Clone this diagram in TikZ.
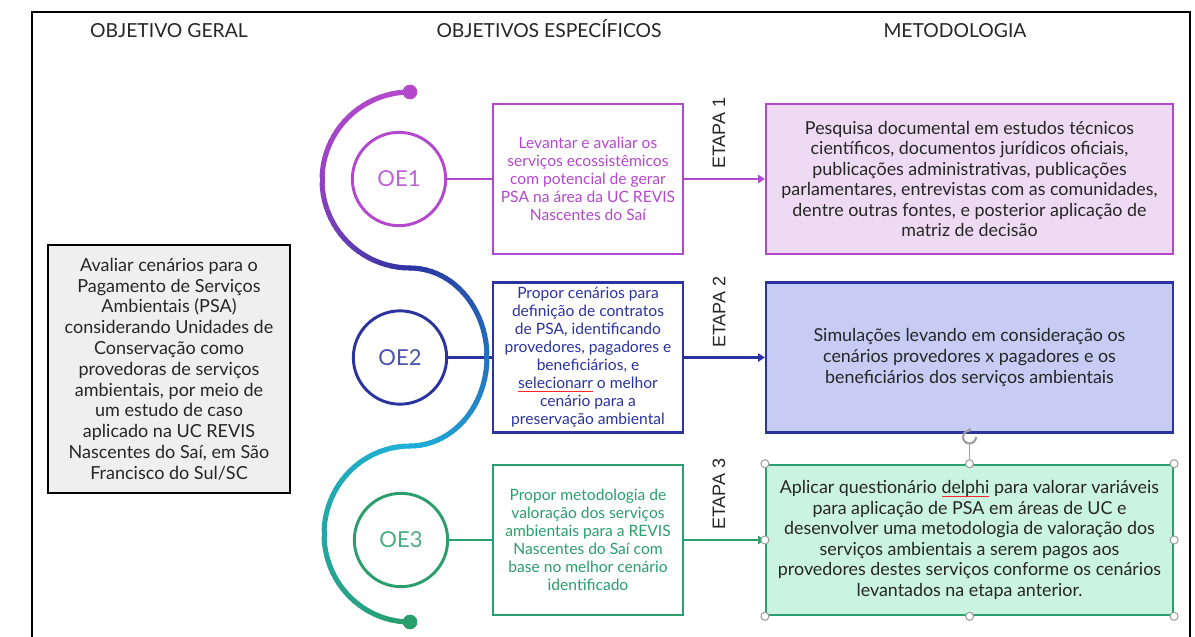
\documentclass[tikz,border=0pt]{standalone}
\usepackage{fontspec}
\setmainfont{Lato}
\newfontfamily\etapafont{Liberation Sans}
\usetikzlibrary{arrows.meta}
\definecolor{oePurple}{HTML}{B348CC}
\definecolor{oeNavy}{HTML}{2B33A0}
\definecolor{oeCyan}{HTML}{1DB0DA}
\definecolor{oeGreen}{HTML}{2A9E6C}
\definecolor{fillPurple}{HTML}{EFDAF3}
\definecolor{fillBlue}{HTML}{C7CCF5}
\definecolor{fillGreen}{HTML}{CBF3E2}
\definecolor{txtDark}{HTML}{262626}
\definecolor{genFill}{HTML}{EFEFEF}
\newcommand\spellmark[1]{\setbox0\hbox{#1}\rlap{\color{red!85}\rule[-2.2pt]{\wd0}{0.5pt}}#1}
\begin{document}
\begin{tikzpicture}[x=0.75pt,y=-0.75pt,
  head/.style={font=\fontsize{14.5}{16}\selectfont, text=black!85, inner sep=0pt, anchor=base},
  gen/.style={draw=black, line width=1.9pt, fill=genFill, minimum width=181.5pt, minimum height=186pt, inner sep=0pt, align=center, font=\fontsize{13.5}{15.6}\selectfont, text=txtDark},
  oe/.style={circle, draw=#1, line width=2.2pt, fill=white, minimum size=70pt, inner sep=0pt, text=#1!85, font=\fontsize{16.5}{18}\selectfont},
  obj/.style={draw=#1, line width=2.2pt, fill=white, minimum width=142.5pt, minimum height=112.5pt, inner sep=0pt, align=center, text=#1, font=\fontsize{11.7}{13.5}\selectfont},
  met/.style 2 args={draw=#1, fill=#2, line width=1.9pt, minimum width=305pt, minimum height=112.5pt, inner sep=0pt, align=center, text=txtDark, font=\fontsize{13.4}{15.4}\selectfont},
  link/.style={draw=#1, line width=2.2pt},
  arr/.style={draw=#1, line width=2.2pt, -{Triangle[length=5pt,width=6pt]}},
  etapa/.style={rotate=90, anchor=west, font=\etapafont\fontsize{13.5}{15}\selectfont, text=black!85, inner sep=0pt},
  handle/.style={circle, draw=gray!75, fill=white, line width=0.8pt, minimum size=6pt, inner sep=0pt},
  curveline/.style={line width=3.8pt, line cap=round}
]
\useasboundingbox (0,0) rectangle (1195,636);
\fill[white] (0,0) rectangle (1195,636);
% frame
\draw[line width=2pt] (32,640) -- (32,12) -- (1190,12) -- (1190,640);
% headers
\node[head] (hg) at (169,37) {OBJETIVO GERAL};
\node[head] (he) at (549,37) {OBJETIVOS ESPECÍFICOS};
\node[head] (hm) at (955,37) {METODOLOGIA};
% general objective
\node[gen] (gen) at (169,369) {Avaliar cenários para o\\Pagamento de Serviços\\Ambientais (PSA)\\considerando Unidades de\\Conservação como\\provedoras de serviços\\ambientais, por meio de\\um estudo de caso\\aplicado na UC REVIS\\Nascentes do Saí, em São\\Francisco do Sul/SC};
% circles
\node[oe=oePurple] (c1) at (399,179) {OE1};
\node[oe=oeNavy] (c2) at (400,357.5) {OE2};
\node[oe=oeGreen] (c3) at (401,540) {OE3};
% specific objectives
\node[obj=oePurple] (b1) at (588,179) {Levantar e avaliar os\\serviços ecossistêmicos\\com potencial de gerar\\PSA na área da UC REVIS\\Nascentes do Saí};
\node[obj=oeNavy] (b2) at (588,357.5) {Propor cenários para\\definição de contratos\\de PSA, identificando\\provedores, pagadores e\\beneficiários, e\\\spellmark{selecionarr} o melhor\\cenário para a\\preservação ambiental};
\node[obj=oeGreen] (b3) at (588,540) {Propor metodologia de\\valoração dos serviços\\ambientais para a REVIS\\Nascentes do Saí com\\base no melhor cenário\\identificado};
% methodology
\node[met={oePurple}{fillPurple}] (m1) at (969.5,179) {Pesquisa documental em estudos técnicos\\científicos, documentos jurídicos oficiais,\\publicações administrativas, publicações\\parlamentares, entrevistas com as comunidades,\\dentre outras fontes, e posterior aplicação de\\matriz de decisão};
\node[met={oeNavy}{fillBlue}] (m2) at (969.5,357.5) {Simulações levando em consideração os\\cenários provedores x pagadores e os\\beneficiários dos serviços ambientais};
\node[met={oeGreen}{fillGreen}] (m3) at (969.5,540) {Aplicar questionário \spellmark{delphi} para valorar variáveis\\para aplicação de PSA em áreas de UC e\\desenvolver uma metodologia de valoração dos\\serviços ambientais a serem pagos aos\\provedores destes serviços conforme os cenários\\levantados na etapa anterior.};
% connectors
\draw[link=oePurple] (c1) -- (b1);
\draw[link=oeNavy] (c2) -- (b2);
\draw[link=oeGreen] (c3) -- (b3);
\draw[arr=oePurple] (b1) -- (m1);
\draw[arr=oeNavy] (b2) -- (m2);
\draw[arr=oeGreen] (b3) -- (m3);
% etapa labels
\node[etapa] (e1) at (719,169) {ETAPA 1};
\node[etapa] (e2) at (719,348) {ETAPA 2};
\node[etapa] (e3) at (719,530) {ETAPA 3};
% snake curve
\foreach \a in {90,94,...,266}{
  \pgfmathsetmacro\b{\a+4}
  \pgfmathtruncatemacro\p{100*(1-((\a-90)/180)^2)}
  \draw[curveline, oePurple!\p!oeNavy] ({410+88*cos(\a)},{180-88*sin(\a)}) -- ({410+88*cos(\b)},{180-88*sin(\b)});
}
\foreach \a in {90,86,...,-86}{
  \pgfmathsetmacro\b{\a-4}
  \pgfmathtruncatemacro\p{100*(1-((90-\a)/180))}
  \draw[curveline, oeNavy!\p!oeCyan] ({410+77*cos(\a)},{357-89*sin(\a)}) -- ({410+77*cos(\b)},{357-89*sin(\b)});
}
\foreach \a in {90,94,...,266}{
  \pgfmathsetmacro\b{\a+4}
  \pgfmathtruncatemacro\p{100*(1-((\a-90)/180))}
  \draw[curveline, oeCyan!\p!oeGreen] ({410+86*cos(\a)},{534-88*sin(\a)}) -- ({410+86*cos(\b)},{534-88*sin(\b)});
}
\fill[oePurple] (410,92) circle[radius=5.5pt];
\fill[oeGreen] (410,622) circle[radius=5.5pt];
% selection handles
\node[handle] (hnw) at (m3.north west) {};
\node[handle] (hn) at (m3.north) {};
\node[handle] (hne) at (m3.north east) {};
\node[handle] (he2) at (m3.east) {};
\node[handle] (hse) at (m3.south east) {};
\node[handle] (hs) at (m3.south) {};
\node[handle] (hsw) at (m3.south west) {};
\node[handle] (hw) at (m3.west) {};
\coordinate (rot) at (969.5,444);
\draw[gray!75, line width=0.8pt] (hn) -- (rot);
\draw[gray!75, line width=1.6pt, -{Stealth[length=3pt,width=4pt]}] (976,437) arc[start angle=0, end angle=290, radius=6.5];
\end{tikzpicture}
\end{document}
